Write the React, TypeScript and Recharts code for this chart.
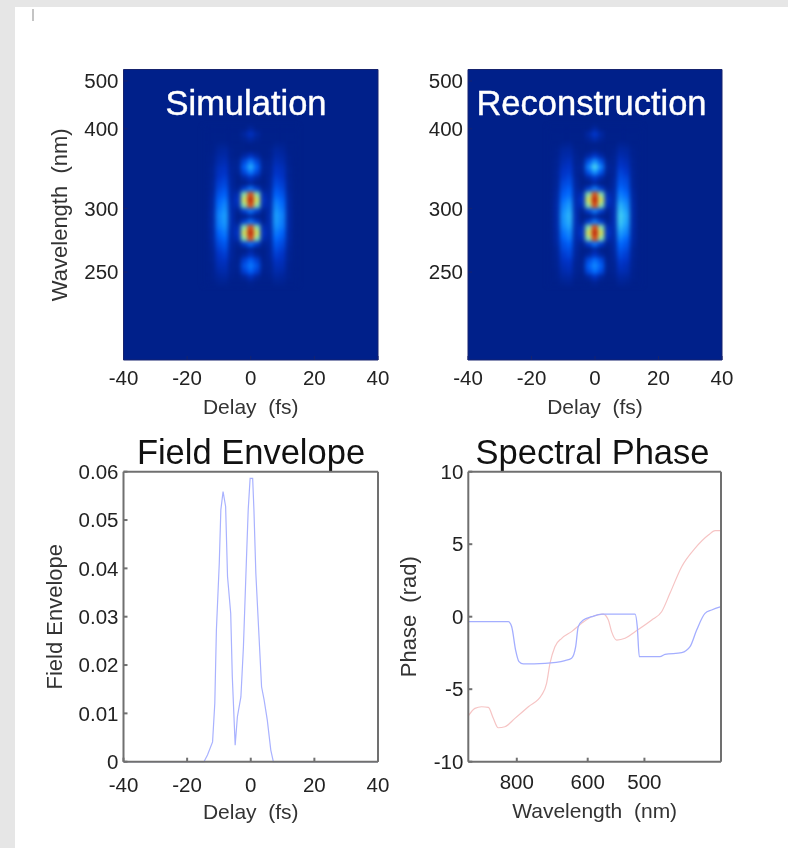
import { Line, LineChart, ReferenceArea, Scatter, ScatterChart, XAxis, YAxis } from "recharts";

// ---- heat maps: columns are delay (fs), rows are 1000/wavelength (1/um), cells are percent of peak
const delayColumns = [-14, -12, -10, -8, -6, -4, -2, 0, 2, 4, 6, 8, 10, 12, 14];
const invRows = [
  2.5, 2.5575, 2.615, 2.6725, 2.73, 2.7875, 2.845, 2.9025, 2.96, 3.0175, 3.075, 3.1325, 3.19, 3.2475, 3.305,
  3.3625, 3.42, 3.4775, 3.535, 3.5925, 3.65, 3.7075, 3.765, 3.8225, 3.88, 3.9375, 3.995, 4.0525, 4.11,
];
const simulationLevels = [
  [0, 0, 0, 0, 0, 0, 0, 4, 0, 0, 0, 0, 0, 0, 0],
  [0, 0, 0, 0, 0, 0, 5, 13, 5, 0, 0, 0, 0, 0, 0],
  [0, 0, 0, 0, 0, 0, 2, 6, 2, 0, 0, 0, 0, 0, 0],
  [0, 0, 2, 2, 0, 0, 0, 0, 0, 0, 0, 2, 2, 0, 0],
  [0, 0, 4, 5, 1, 0, 0, 0, 0, 0, 1, 5, 4, 0, 0],
  [0, 1, 6, 7, 1, 0, 6, 14, 6, 0, 1, 7, 6, 1, 0],
  [0, 1, 8, 10, 2, 2, 20, 34, 20, 2, 2, 10, 8, 1, 0],
  [0, 2, 11, 13, 3, 3, 28, 46, 28, 3, 3, 13, 11, 2, 0],
  [0, 2, 13, 15, 3, 2, 20, 34, 20, 2, 3, 15, 13, 2, 0],
  [0, 2, 15, 18, 4, 0, 6, 14, 6, 0, 4, 18, 15, 2, 0],
  [0, 3, 18, 21, 4, 0, 0, 5, 0, 0, 4, 21, 18, 3, 0],
  [0, 3, 21, 25, 5, 2, 18, 34, 18, 2, 5, 25, 21, 3, 0],
  [0, 4, 25, 29, 6, 10, 62, 92, 62, 10, 6, 29, 25, 4, 0],
  [0, 5, 29, 34, 7, 14, 72, 100, 72, 14, 7, 34, 29, 5, 0],
  [0, 5, 32, 38, 8, 10, 62, 92, 62, 10, 8, 38, 32, 5, 0],
  [0, 6, 35, 41, 8, 2, 18, 34, 18, 2, 8, 41, 35, 6, 0],
  [0, 6, 37, 43, 9, 0, 0, 6, 0, 0, 9, 43, 37, 6, 0],
  [0, 6, 36, 42, 9, 2, 18, 34, 18, 2, 9, 42, 36, 6, 0],
  [0, 6, 34, 39, 8, 10, 62, 92, 62, 10, 8, 39, 34, 6, 0],
  [0, 5, 30, 35, 7, 14, 72, 100, 72, 14, 7, 35, 30, 5, 0],
  [0, 5, 26, 31, 6, 10, 62, 92, 62, 10, 6, 31, 26, 5, 0],
  [0, 4, 22, 26, 5, 2, 18, 32, 18, 2, 5, 26, 22, 4, 0],
  [0, 3, 18, 22, 4, 0, 0, 5, 0, 0, 4, 22, 18, 3, 0],
  [0, 2, 15, 18, 4, 0, 4, 12, 4, 0, 4, 18, 15, 2, 0],
  [0, 2, 12, 14, 3, 1, 18, 28, 18, 1, 3, 14, 12, 2, 0],
  [0, 1, 10, 11, 2, 2, 24, 34, 24, 2, 2, 11, 10, 1, 0],
  [0, 1, 7, 8, 2, 1, 18, 28, 18, 1, 2, 8, 7, 1, 0],
  [0, 1, 4, 5, 1, 0, 4, 12, 4, 0, 1, 5, 4, 1, 0],
  [0, 0, 2, 2, 0, 0, 0, 2, 0, 0, 0, 2, 2, 0, 0],
];
const reconstructionLevels = [
  [0, 0, 0, 0, 0, 0, 0, 5, 0, 0, 0, 0, 0, 0, 0],
  [0, 0, 0, 0, 0, 0, 6, 16, 6, 0, 0, 0, 0, 0, 0],
  [0, 0, 0, 0, 0, 0, 3, 8, 3, 0, 0, 0, 0, 0, 0],
  [0, 0, 2, 3, 0, 0, 0, 0, 0, 0, 0, 3, 2, 0, 0],
  [0, 1, 5, 6, 1, 0, 0, 2, 0, 0, 1, 6, 5, 1, 0],
  [0, 1, 7, 8, 2, 0, 7, 16, 7, 0, 2, 9, 7, 1, 0],
  [0, 2, 9, 12, 2, 2, 24, 40, 24, 2, 2, 13, 10, 2, 0],
  [0, 2, 12, 15, 3, 4, 36, 54, 36, 4, 3, 16, 13, 2, 0],
  [0, 3, 15, 17, 3, 2, 24, 40, 24, 2, 3, 20, 16, 3, 0],
  [0, 3, 17, 21, 4, 0, 7, 16, 7, 0, 4, 23, 20, 3, 0],
  [0, 3, 21, 24, 5, 0, 0, 6, 0, 0, 5, 26, 23, 3, 0],
  [0, 4, 24, 29, 6, 2, 18, 36, 18, 2, 6, 31, 26, 4, 0],
  [0, 5, 28, 32, 7, 10, 62, 92, 62, 10, 7, 36, 31, 5, 0],
  [0, 6, 32, 38, 8, 14, 72, 100, 72, 14, 8, 41, 36, 6, 0],
  [0, 7, 36, 43, 9, 10, 62, 92, 62, 10, 9, 47, 40, 7, 0],
  [0, 7, 39, 46, 9, 2, 18, 36, 18, 2, 9, 50, 44, 7, 0],
  [0, 7, 41, 48, 10, 0, 0, 6, 0, 0, 10, 52, 46, 7, 0],
  [0, 7, 40, 47, 10, 2, 18, 36, 18, 2, 10, 51, 45, 7, 0],
  [0, 7, 37, 44, 9, 10, 62, 92, 62, 10, 9, 48, 41, 7, 0],
  [0, 6, 33, 39, 8, 14, 72, 100, 72, 14, 8, 43, 37, 6, 0],
  [0, 6, 29, 35, 7, 10, 62, 92, 62, 10, 7, 37, 31, 6, 0],
  [0, 5, 24, 29, 6, 2, 18, 34, 18, 2, 6, 31, 26, 5, 0],
  [0, 3, 21, 24, 5, 0, 0, 6, 0, 0, 5, 26, 22, 3, 0],
  [0, 3, 17, 21, 4, 0, 5, 14, 5, 0, 4, 22, 18, 3, 0],
  [0, 2, 14, 16, 3, 1, 22, 32, 22, 1, 3, 17, 15, 2, 0],
  [0, 2, 11, 13, 2, 2, 28, 38, 28, 2, 2, 14, 11, 2, 0],
  [0, 1, 8, 10, 2, 1, 22, 32, 22, 1, 2, 10, 9, 1, 0],
  [0, 1, 5, 6, 1, 0, 5, 14, 5, 0, 1, 6, 5, 1, 0],
  [0, 0, 2, 3, 0, 0, 0, 3, 0, 0, 0, 3, 2, 0, 0],
];

// ---- line plots
const envelopeDelay = [
  -40, -14.7, -13.6, -12, -11.3, -10.8, -9.9, -9.4, -8.7, -7.9, -7.3, -6.3, -5.8, -4.9, -4.2, -3.1, -2.3, -1.4, -0.8,
  -0.2, 0.6, 1, 1.6, 2.6, 3.4, 4.2, 5.2, 6.3, 7.1, 40,
];
const envelopeValue = [
  0, 0, 0.0014, 0.0041, 0.0121, 0.0272, 0.041, 0.0521, 0.0559, 0.0528, 0.0383, 0.0307, 0.0176, 0.0034, 0.0093, 0.0134,
  0.0238, 0.041, 0.0521, 0.0586, 0.0586, 0.0521, 0.039, 0.0259, 0.0155, 0.0128, 0.0086, 0.0024, 0, 0,
];
const intensityPhaseInv = [
  0.965, 1.2, 1.22, 1.243, 1.263, 1.288, 1.416, 1.533, 1.572, 1.596, 1.611, 1.641, 1.69, 1.749, 1.945, 1.958, 1.97,
  2.091, 2.121, 2.219, 2.268, 2.307, 2.356, 2.395, 2.45,
];
const intensityPhase = [
  -0.34, -0.34, -0.69, -2.3, -3.1, -3.26, -3.22, -3.03, -2.87, -2.07, -0.69, -0.23, 0, 0.18, 0.18, -0.69, -2.76, -2.76,
  -2.6, -2.48, -2.07, -0.92, 0.23, 0.46, 0.69,
];
const spectralPhaseInv = [
  0.965, 1.004, 1.043, 1.083, 1.112, 1.141, 1.18, 1.239, 1.318, 1.396, 1.425, 1.445, 1.474, 1.514, 1.572, 1.631, 1.69,
  1.758, 1.788, 1.807, 1.837, 1.886, 1.945, 2.043, 2.101, 2.15, 2.219, 2.297, 2.376, 2.415, 2.45,
];
const spectralPhase = [
  -6.85, -6.32, -6.21, -6.25, -7.01, -7.66, -7.59, -7.01, -6.21, -5.4, -4.6, -3.22, -2.07, -1.49, -1.03, -0.46, 0, 0.18,
  -0.23, -1.03, -1.61, -1.49, -1.03, -0.23, 0.34, 1.61, 3.45, 4.71, 5.63, 5.93, 5.93,
];

// ---- ticks
const delayTicks = [-40, -20, 0, 20, 40];
const heatWavelengths = [500, 400, 300, 250];
const envelopeTicks = [0, 0.01, 0.02, 0.03, 0.04, 0.05, 0.06];
const phaseTicks = [-10, -5, 0, 5, 10];
const phaseWavelengths = [800, 600, 500];

const toInv = (nm: number) => 1000 / nm;
const toNm = (v: number) => String(Math.round(1000 / v));

const jetStops: [number, number[]][] = [
  [0, [0, 32, 138]],
  [15, [0, 52, 200]],
  [30, [0, 102, 255]],
  [45, [32, 168, 255]],
  [55, [80, 224, 240]],
  [65, [176, 240, 144]],
  [75, [240, 232, 64]],
  [87, [240, 100, 16]],
  [100, [192, 30, 8]],
];
const jet = (level: number) => {
  const i = Math.max(1, jetStops.findIndex(([s]) => s >= level));
  const [s0, c0] = jetStops[i - 1];
  const [s1, c1] = jetStops[i];
  const t = (level - s0) / (s1 - s0);
  return `rgb(${c0.map((c, k) => Math.round(c + (c1[k] - c) * t)).join(",")})`;
};

const FONT = "'Liberation Sans', Arial, sans-serif";
const tickStyle = { fontSize: 20.5, fontFamily: FONT, fill: "#222" };
const labelStyle = { fontSize: 21, fontFamily: FONT, fill: "#333", textAnchor: "middle" as const };
const sideLabelStyle = { ...labelStyle, fontSize: 22 };
const titleStyle = { fontSize: 34.5, fontFamily: FONT, textAnchor: "middle" as const };

const SIZE = { width: 394, height: 424 };

const Cell = (props: any) => (
  <rect x={props.cx - 3.4} y={props.cy - 3} width={6.8} height={6} fill={jet(props.payload.level)} />
);

type HeatProps = {
  levels: number[][];
  left: number;
  right: number;
  showYLabel?: boolean;
};

const HeatMap = ({ levels, left, right, showYLabel }: HeatProps) => {
  const cells = levels.flatMap((row, r) =>
    row.map((level, c) => ({ delay: delayColumns[c], inv: invRows[r], level }))
  );
  const frame = "#16236e";
  return (
    <ScatterChart {...SIZE} margin={{ top: 68.5, right: right - 1, bottom: 0, left: 0 }}>
      <XAxis
        dataKey="delay"
        type="number"
        domain={[-40, 40]}
        ticks={delayTicks}
        height={64}
        tickSize={-4}
        tickMargin={14}
        tick={tickStyle}
        stroke={frame}
        label={{ value: "Delay\u00A0\u00A0(fs)", position: "insideBottom", offset: 10, style: labelStyle }}
      />
      <XAxis xAxisId="top" orientation="top" type="number" domain={[-40, 40]} ticks={delayTicks} height={1} tickSize={-4} tick={false} stroke={frame} />
      <YAxis
        dataKey="inv"
        type="number"
        reversed
        domain={[1.88, 4.92]}
        ticks={heatWavelengths.map(toInv)}
        tickFormatter={toNm}
        width={left}
        tickSize={-4}
        tickMargin={9}
        tick={tickStyle}
        stroke={frame}
        label={
          showYLabel
            ? { value: "Wavelength\u00A0\u00A0(nm)", angle: -90, position: "insideLeft", dx: 54, style: sideLabelStyle }
            : undefined
        }
      />
      <YAxis yAxisId="right" orientation="right" type="number" reversed domain={[1.88, 4.92]} ticks={heatWavelengths.map(toInv)} width={1} tickSize={-4} tick={false} stroke={frame} />
      <ReferenceArea x1={-40} x2={40} y1={1.88} y2={4.92} fill="#00208a" fillOpacity={1} stroke="none" />
      <Scatter data={cells} shape={Cell} isAnimationActive={false} className="heat-cells" />
    </ScatterChart>
  );
};

const frameColor = "#707070";
const frameWidth = 2;

const EnvelopePlot = () => {
  const data = envelopeDelay.map((delay, i) => ({ delay, value: envelopeValue[i] }));
  return (
    <LineChart {...SIZE} data={data} margin={{ top: 46.7, right: 15, bottom: 0, left: 0 }}>
      <XAxis
        dataKey="delay"
        type="number"
        domain={[-40, 40]}
        ticks={delayTicks}
        height={86.3}
        tickSize={-4}
        tickMargin={20}
        tick={tickStyle}
        stroke={frameColor}
        strokeWidth={frameWidth}
        label={{ value: "Delay\u00A0\u00A0(fs)", position: "insideBottom", offset: 29, style: labelStyle }}
      />
      <XAxis xAxisId="top" orientation="top" type="number" domain={[-40, 40]} ticks={delayTicks} height={1} tickSize={-4} tick={false} stroke={frameColor} strokeWidth={frameWidth} />
      <YAxis
        type="number"
        domain={[0, 0.06]}
        ticks={envelopeTicks}
        width={123.5}
        tickSize={-4}
        tickMargin={9}
        tick={tickStyle}
        stroke={frameColor}
        strokeWidth={frameWidth}
        label={{ value: "Field Envelope", angle: -90, position: "insideLeft", dx: 49, style: sideLabelStyle }}
      />
      <YAxis yAxisId="right" orientation="right" type="number" domain={[0, 0.06]} ticks={envelopeTicks} width={1} tickSize={-4} tick={false} stroke={frameColor} strokeWidth={frameWidth} />
      <Line dataKey="value" type="linear" stroke="#a9b2ff" strokeWidth={1.2} dot={false} isAnimationActive={false} />
      <text x={251} y={40} {...titleStyle} fill="#111">
        Field Envelope
      </text>
    </LineChart>
  );
};

const PhasePlot = () => {
  const intensitySeries = intensityPhaseInv.map((inv, i) => ({ inv, phase: intensityPhase[i] }));
  const spectralSeries = spectralPhaseInv.map((inv, i) => ({ inv, phase: spectralPhase[i] }));
  const domain: [number, number] = [0.965, 2.45];
  const ticks = phaseWavelengths.map(toInv);
  return (
    <LineChart {...SIZE} margin={{ top: 46.7, right: 66, bottom: 0, left: 0 }}>
      <XAxis
        dataKey="inv"
        type="number"
        allowDuplicatedCategory={false}
        domain={domain}
        ticks={ticks}
        tickFormatter={toNm}
        height={86.3}
        tickSize={-4}
        tickMargin={17}
        tick={tickStyle}
        stroke={frameColor}
        strokeWidth={frameWidth}
        label={{ value: "Wavelength\u00A0\u00A0(nm)", position: "insideBottom", offset: 30, style: labelStyle }}
      />
      <XAxis xAxisId="top" orientation="top" type="number" domain={domain} ticks={ticks} height={1} tickSize={-4} tick={false} stroke={frameColor} strokeWidth={frameWidth} />
      <YAxis
        type="number"
        domain={[-10, 10]}
        ticks={phaseTicks}
        width={74.3}
        tickSize={-4}
        tickMargin={9}
        tick={tickStyle}
        stroke={frameColor}
        strokeWidth={frameWidth}
        label={{ value: "Phase\u00A0\u00A0(rad)", angle: -90, position: "insideLeft", dx: 9, style: sideLabelStyle }}
      />
      <YAxis yAxisId="right" orientation="right" type="number" domain={[-10, 10]} ticks={phaseTicks} width={1} tickSize={-4} tick={false} stroke={frameColor} strokeWidth={frameWidth} />
      <Line data={spectralSeries} dataKey="phase" type="monotone" stroke="#f6c4c4" strokeWidth={1.2} dot={false} isAnimationActive={false} />
      <Line data={intensitySeries} dataKey="phase" type="monotone" stroke="#a4aeff" strokeWidth={1.3} dot={false} isAnimationActive={false} />
      <text x={198.5} y={40} {...titleStyle} fill="#111">
        Spectral Phase
      </text>
    </LineChart>
  );
};

const at = (left: number, top: number) => ({ position: "absolute" as const, left, top });

const HeatTitle = ({ text, center }: { text: string; center: number }) => (
  <div
    style={{
      position: "absolute",
      left: center - 150,
      top: 83,
      width: 300,
      lineHeight: "40px",
      textAlign: "center",
      fontFamily: FONT,
      fontSize: 34.5,
      color: "#fff",
      WebkitTextStroke: "0.4px #fff",
    }}
  >
    {text}
  </div>
);

export default function App() {
  return (
    <div style={{ position: "absolute", left: 0, top: 0, width: 788, height: 848, background: "#e6e6e6", overflow: "hidden" }}>
      <style>{".heat-cells { filter: blur(2.1px); }"}</style>
      <div style={{ position: "absolute", left: 15, top: 7, width: 773, height: 841, background: "#fff" }} />
      <div style={{ position: "absolute", left: 32, top: 9, width: 2, height: 12, background: "#c4c4c4" }} />
      <div style={{ position: "absolute", left: 0, top: 0, width: 788, height: 848, filter: "blur(0.5px)" }}>
        <div style={at(0, 0)}>
          <HeatMap levels={simulationLevels} left={123.5} right={16} showYLabel />
        </div>
        <div style={at(394, 0)}>
          <HeatMap levels={reconstructionLevels} left={74} right={66} />
        </div>
        <div style={at(0, 424)}>
          <EnvelopePlot />
        </div>
        <div style={at(394, 424)}>
          <PhasePlot />
        </div>
        <HeatTitle text="Simulation" center={246} />
        <HeatTitle text="Reconstruction" center={591.5} />
      </div>
    </div>
  );
}
